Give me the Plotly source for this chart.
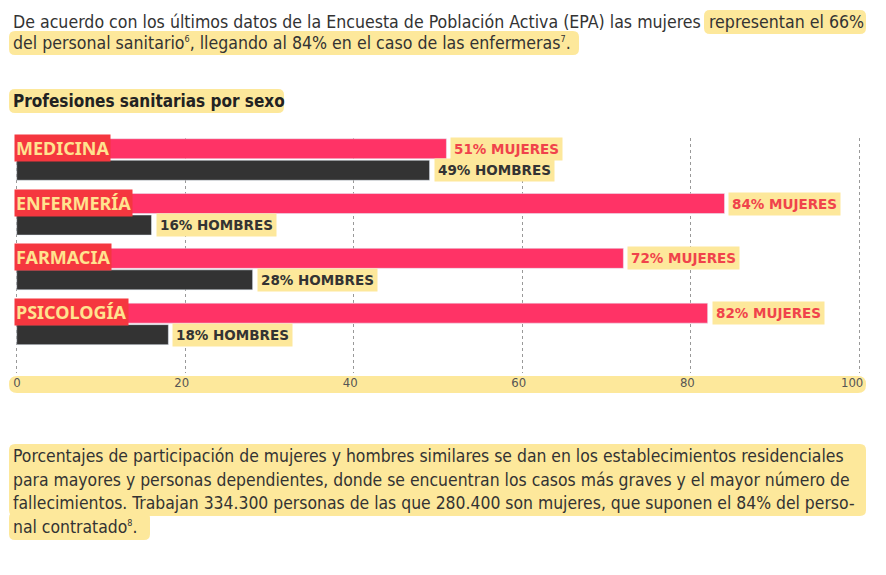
import plotly.graph_objects as go

categories = ["MEDICINA", "ENFERMERÍA", "FARMACIA", "PSICOLOGÍA"]
mujeres = [51, 84, 72, 82]
hombres = [49, 16, 28, 18]
x_ticks = [0, 20, 40, 60, 80, 100]

SUP = "<sup><span style='font-size:9px'>{}</span></sup>"
intro_plain = "De acuerdo con los últimos datos de la Encuesta de Población Activa (EPA) las mujeres"
intro_hl = "representan el 66%"
intro_line2 = ("del personal sanitario" + SUP.format(6) +
               ", llegando al 84% en el caso de las enfermeras" + SUP.format(7) + ".")
chart_title = "Profesiones sanitarias por sexo"
outro_lines = [
    "Porcentajes de participación de mujeres y hombres similares se dan en los establecimientos residenciales",
    "para mayores y personas dependientes, donde se encuentran los casos más graves y el mayor número de",
    "fallecimientos. Trabajan 334.300 personas de las que 280.400 son mujeres, que suponen el 84% del perso-",
    "nal contratado" + SUP.format(8) + ".",
]

PINK = "#ff3366"
DARK = "#333333"
HL = "#fde89b"
RED_TXT = "#f0434b"
BODY_FONT = "DejaVu Sans Condensed, sans-serif"
LABEL_FONT = "Noto Sans, Open Sans, sans-serif"
VAL_FONT = "DejaVu Sans, sans-serif"

W, H = 886, 575
L, R, T, B = 15, 861, 138, 373


def fx(x):
    return (x - L) / (R - L)


def fy(y):
    return (B - y) / (B - T)


def rrect(x0, y0, x1, y1, r=6):
    pts = [
        ("M", [(x0 + r, y0)]),
        ("L", [(x1 - r, y0)]),
        ("Q", [(x1, y0), (x1, y0 + r)]),
        ("L", [(x1, y1 - r)]),
        ("Q", [(x1, y1), (x1 - r, y1)]),
        ("L", [(x0 + r, y1)]),
        ("Q", [(x0, y1), (x0, y1 - r)]),
        ("L", [(x0, y0 + r)]),
        ("Q", [(x0, y0), (x0 + r, y0)]),
    ]
    s = ""
    for cmd, ps in pts:
        s += cmd + " " + " ".join(f"{fx(a):.5f},{fy(b):.5f}" for a, b in ps) + " "
    return dict(type="path", path=s + "Z", xref="paper", yref="paper",
                fillcolor=HL, line=dict(width=0), layer="below")


fig = go.Figure()
fig.add_trace(go.Bar(y=categories, x=mujeres, orientation="h", marker_color=PINK,
                     name="Mujeres", hoverinfo="skip"))
fig.add_trace(go.Bar(y=categories, x=hombres, orientation="h", marker_color=DARK,
                     name="Hombres", hoverinfo="skip"))

shapes = []
annotations = []

# highlight backgrounds (page pixel coords)
shapes.append(rrect(704, 10, 866, 34))
shapes.append(rrect(9, 31, 579, 55))
shapes.append(rrect(9, 89, 284, 113))
shapes.append(rrect(9, 376, 866, 393, r=8))
outro_y = [456, 480, 503, 527]
shapes.append(rrect(9, 444, 866, 516))
shapes.append(rrect(9, 512, 150, 540))


def text(x, y, s, size=17.4, anchor="left", bold=False, color="#333333", font=BODY_FONT):
    annotations.append(dict(
        x=fx(x), y=fy(y), xref="paper", yref="paper", text=s, showarrow=False,
        xanchor=anchor, yanchor="middle", align=anchor,
        font=dict(family=font, size=size, color=color, weight="bold" if bold else "normal"),
    ))


text(11, 22, intro_plain, size=17.6)
text(866, 22, intro_hl, anchor="right", size=17.6)
text(11, 43, intro_line2, size=17.6)
text(11, 101, chart_title, bold=True, color="#222222", size=17)
for yy, line in zip(outro_y, outro_lines):
    text(11, yy, line)

off = 0.196
for i, (c, m, h) in enumerate(zip(categories, mujeres, hombres)):
    annotations.append(dict(
        x=0, y=i - off, xref="x", yref="y", text=c, showarrow=False,
        xanchor="left", yanchor="middle", xshift=-3, yshift=1,
        bgcolor="#f5373f", borderpad=1,
        font=dict(family=LABEL_FONT, size=18, color="#ffe38f", weight="bold"),
    ))
    annotations.append(dict(
        x=m, y=i - off, xref="x", yref="y", text=f"{m}% MUJERES", showarrow=False,
        xanchor="left", yanchor="middle", xshift=4,
        bgcolor=HL, borderpad=3,
        font=dict(family=VAL_FONT, size=13.5, color=RED_TXT, weight="bold"),
    ))
    annotations.append(dict(
        x=h, y=i + off, xref="x", yref="y", text=f"{h}% HOMBRES", showarrow=False,
        xanchor="left", yanchor="middle", xshift=4,
        bgcolor=HL, borderpad=3,
        font=dict(family=VAL_FONT, size=13.5, color=DARK, weight="bold"),
    ))

fig.update_layout(
    width=W, height=H,
    margin=dict(l=L, r=W - R, t=T, b=H - B),
    paper_bgcolor="white", plot_bgcolor="white",
    barmode="group", bargap=0.215, bargroupgap=0.07,
    showlegend=False,
    shapes=shapes, annotations=annotations,
    xaxis=dict(range=[-0.2, 100.2], tickvals=x_ticks,
               showgrid=True, gridcolor="#999999",
               griddash="dot", gridwidth=1, zeroline=False, showline=False,
               ticks="", ticklabelposition="outside left", ticklabelshift=4,
               ticklabeloverflow="allow",
               tickfont=dict(family=BODY_FONT, size=13, color="#555555"),
               fixedrange=True),
    yaxis=dict(range=[3.896, -0.392], showticklabels=False, showgrid=False,
               zeroline=False, fixedrange=True),
)

fig.write_html(
    "out.html",
    config={"displayModeBar": False},
    post_script="document.documentElement.style.overflow='hidden';"
                "document.body.style.margin='0';document.body.style.overflow='hidden';",
)
